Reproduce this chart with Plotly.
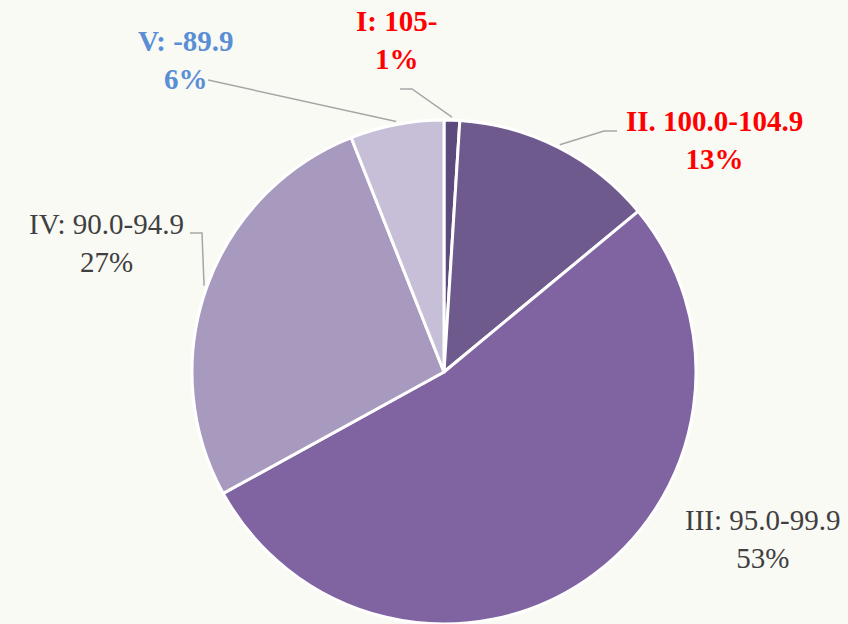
import math
import plotly.graph_objects as go

# data
labels = ["I: 105-", "II. 100.0-104.9", "III: 95.0-99.9", "IV: 90.0-94.9", "V: -89.9"]
percents = [1, 13, 53, 27, 6]
slice_colors = ["#5d4a7d", "#6f5a8e", "#8064a2", "#a899bf", "#c7bfd7"]
label_colors = ["#ff0000", "#ff0000", "#404040", "#404040", "#5b8fd5"]
label_bold = [True, True, False, False, True]

W, H = 848, 624
BG = "#fafaf5"
CX, CY, R = 444, 372, 252

# label block centres (px) and the label-side points of leader lines
label_pos = [(396, 40), (714, 140), (762, 539), (106, 243), (186, 60)]
leader_pts = [[(400, 89), (412, 89)], [(617, 131), (604, 131)], None,
              [(190, 233), (202, 233)], [(208, 80)]]


def px(x):
    return x / W


def py(y):
    return 1 - y / H


fig = go.Figure()
fig.add_trace(go.Pie(
    labels=labels, values=percents, sort=False, direction="clockwise", rotation=0,
    textinfo="none", hoverinfo="label+percent",
    marker=dict(colors=slice_colors, line=dict(color="white", width=3)),
    domain=dict(x=[px(CX - R), px(CX + R)], y=[py(CY + R), py(CY - R)]),
))

total = sum(percents)
cum = 0
shapes, annotations = [], []
for i, (lab, pct) in enumerate(zip(labels, percents)):
    mid = (cum + pct / 2) / total * 2 * math.pi
    cum += pct
    ex, ey = CX + (R + 3) * math.sin(mid), CY - (R + 3) * math.cos(mid)
    if leader_pts[i]:
        pts = leader_pts[i] + [(ex, ey)]
        path = "M " + " L ".join(f"{px(x):.5f},{py(y):.5f}" for x, y in pts)
        shapes.append(dict(type="path", path=path, xref="paper", yref="paper",
                           line=dict(color="#a6a6a6", width=1.5)))
    txt = f"{lab}<br>{pct}%"
    if label_bold[i]:
        txt = f"<b>{lab}</b><br><b>{pct}%</b>"
    lx, ly = label_pos[i]
    annotations.append(dict(x=px(lx), y=py(ly), xref="paper", yref="paper", text=txt,
                            showarrow=False, xanchor="center", yanchor="middle", align="center",
                            font=dict(family="Liberation Serif", size=29, color=label_colors[i])))

fig.update_layout(
    width=W, height=H, margin=dict(l=0, r=0, t=0, b=0),
    paper_bgcolor=BG, plot_bgcolor=BG, showlegend=False,
    shapes=shapes, annotations=annotations,
)
# the page body has a default 8px margin; drop it so the chart fills the window
fig.write_html("out.html", config={"displayModeBar": False},
               post_script="document.body.style.margin='0';document.body.style.overflow='hidden';")
